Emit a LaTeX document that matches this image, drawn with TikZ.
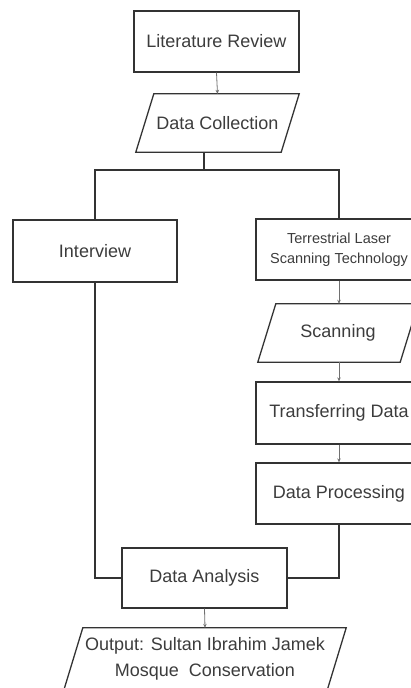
\documentclass[tikz,border=0pt]{standalone}
\usepackage{fontspec}
\setmainfont{Liberation Sans}
\usetikzlibrary{arrows.meta,calc}
\definecolor{linec}{HTML}{333333}
\definecolor{textc}{HTML}{3C3C3C}
\definecolor{arrc}{HTML}{707070}
\begin{document}
\begin{tikzpicture}[x=1pt,y=-1pt,
  txt/.style={text=textc, font=\fontsize{18}{26}\selectfont, inner sep=0pt, align=center},
  box/.style={txt, draw=linec, line width=1.3pt},
  para/.style={draw=linec, line width=1.3pt},
  link/.style={draw=linec, line width=1.3pt},
  arr/.style={draw=arrc, line width=0.8pt, -{Stealth[length=4pt,width=3.5pt]}}]
\useasboundingbox (0,0) rectangle (411,688);
% boxes
\node[box, minimum width=165pt, minimum height=61pt] (lr) at (216.5,41.5) {Literature Review};
\node[txt, minimum width=163pt, minimum height=58pt] (dc) at (217.5,123) {Data Collection};
\node[box, minimum width=164pt, minimum height=62pt] (iv) at (95,251) {Interview};
\node[box, minimum width=166pt, minimum height=61pt, font=\fontsize{14.5}{20}\selectfont] (tls) at (339,249.5) {Terrestrial Laser\\Scanning Technology};
\node[txt, minimum width=160pt, minimum height=58pt] (sc) at (338,333) {Scanning};
\node[box, minimum width=166pt, minimum height=62pt] (td) at (339,413) {Transferring Data};
\node[box, minimum width=166pt, minimum height=61pt] (dp) at (339,493.5) {Data Processing};
\node[box, minimum width=165pt, minimum height=60pt] (da) at (204.5,578) {Data Analysis};
\node[txt, minimum width=282pt, minimum height=62pt] (out) at (205,659) {Output: Sultan Ibrahim Jamek\\Mosque\ \ Conservation};
% parallelograms
\draw[para] ($(dc.north west)+(18,0)$) -- (dc.north east) -- ($(dc.south east)+(-18,0)$) -- (dc.south west) -- cycle;
\draw[para] ($(sc.north west)+(18,0)$) -- (sc.north east) -- ($(sc.south east)+(-18,0)$) -- (sc.south west) -- cycle;
\draw[para] ($(out.north west)+(19,0)$) -- (out.north east) -- ($(out.south east)+(-19,0)$) -- (out.south west) -- cycle;
% connectors
\coordinate (split) at (204,170);
\draw[arr] (lr.south) -- (dc.north);
\draw[link] (dc.south -| split) -- (split);
\draw[link] (iv.north) -- (iv.north |- split) -- (tls.north |- split) -- (tls.north);
\draw[arr] (tls.south) -- (tls.south |- sc.north);
\draw[arr] (tls.south |- sc.south) -- (td.north);
\draw[arr] (td.south) -- (dp.north);
\draw[link] (iv.south) |- (da.west);
\draw[link] (dp.south) |- (da.east);
\draw[arr] (da.south) -- (out.north);
\end{tikzpicture}
\end{document}
